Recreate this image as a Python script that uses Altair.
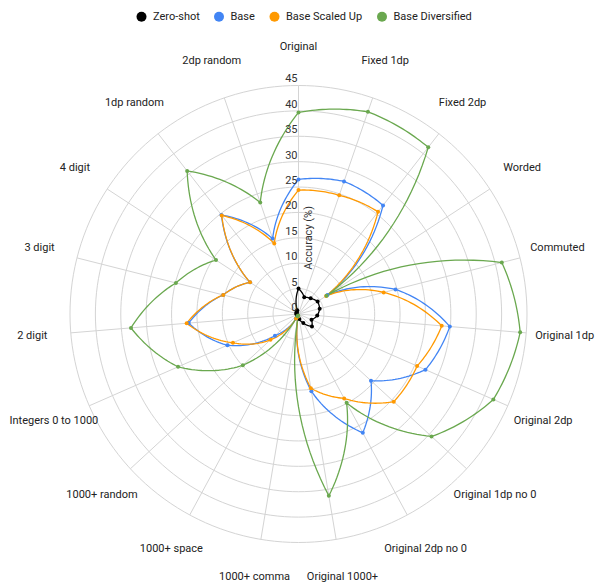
import altair as alt
import pandas as pd

# ---------------- data ----------------
categories = [
    "Original", "Fixed 1dp", "Fixed 2dp", "Worded", "Commuted",
    "Original 1dp", "Original 2dp", "Original 1dp no 0", "Original 2dp no 0",
    "Original 1000+", "1000+ comma", "1000+ space", "1000+ random",
    "Integers 0 to 1000", "2 digit", "3 digit", "4 digit", "1dp random", "2dp random",
]
zero_shot = [5.0, 3.5, 3.9, 4.5, 4.3, 3.7, 2.8, 3.6, 2.0, 1.0, 0.6, 0.4, 0.4, 0.3, 0.4, 0.4, 0.5, 0.5, 0.8]
base = [26.5, 27.6, 27.1, 6.8, 19.7, 29.9, 27.3, 19.4, 26.6, 15.4, 0.5, 1.0, 6.3, 15.3, 21.7, 15.3, 11.4, 24.7, 15.7]
base_scaled_up = [24.4, 24.7, 25.5, 6.5, 17.3, 28.3, 25.5, 25.5, 18.9, 14.8, 0.5, 1.0, 7.5, 14.1, 22.1, 15.3, 11.4, 24.6, 14.7]
base_diversified = [39.7, 42.1, 41.6, 6.6, 41.3, 43.8, 41.9, 35.6, 19.9, 36.3, 0.3, 0.5, 14.9, 25.9, 33.1, 24.9, 19.4, 35.7, 23.2]

series_names = ["Zero-shot", "Base", "Base Scaled Up", "Base Diversified"]
series_colors = ["#000000", "#4285f4", "#ff9900", "#6aa84f"]
tick_values = [0, 5, 10, 15, 20, 25, 30, 35, 40, 45]
axis_title = "Accuracy (%)"

# ---------------- layout ----------------
W, H = 595, 584
CX, CY = 298.5, 314.0      # centre of the radar in pixels
PPU = 5.078                # pixels per accuracy unit
AXIS_MAX = 45
LABEL_R = 52.6             # radius of category labels (in units)
N = len(categories)
FONT = "Roboto"
FS = 11
TXT = "#222222"

xs = alt.Scale(domain=[-CX / PPU, (W - CX) / PPU], nice=False, zero=False)
ys = alt.Scale(domain=[-(H - CY) / PPU, CY / PPU], nice=False, zero=False)


def X(f):
    return alt.X(f, type="quantitative", scale=xs, axis=None)


def Y(f):
    return alt.Y(f, type="quantitative", scale=ys, axis=None)


# tables built from the arrays
rows = []
for name, vals in zip(series_names, [zero_shot, base, base_scaled_up, base_diversified]):
    for k, v in enumerate(vals):
        rows.append({"series": name, "k": k, "v": v, "vnext": vals[(k + 1) % N]})
df = pd.DataFrame(rows)
df_cat = pd.DataFrame({"cat": categories, "k": list(range(N))})
df_ring = pd.DataFrame({"r": [t for t in tick_values if t > 0]})
df_tick = pd.DataFrame({"tick": tick_values, "lab": [str(t) for t in tick_values], "zero": 0})
df_title = pd.DataFrame({"title": [axis_title], "zero": [0], "pos": [AXIS_MAX / 3.0]})

legend = alt.Legend(
    orient="none",
    legendX=136,
    legendY=11,
    direction="horizontal",
    symbolType="circle",
    symbolSize=100,
    symbolOpacity=1,
    symbolStrokeWidth=0,
    labelFont=FONT,
    labelFontSize=FS,
    labelColor=TXT,
    labelOffset=6,
    columnPadding=13.5,
)
color = alt.Color(
    "series:N",
    scale=alt.Scale(domain=series_names, range=series_colors),
    title=None,
    legend=legend,
)

# rings
rings = (
    alt.Chart(df_ring)
    .transform_calculate(a="sequence(0, 361, 2)")
    .transform_flatten(["a"])
    .transform_calculate(
        x="datum.r * sin(datum.a * PI / 180)",
        y="datum.r * cos(datum.a * PI / 180)",
    )
    .mark_line(color="#d4d4d4", strokeWidth=1)
    .encode(x=X("x"), y=Y("y"), detail="r:N", order="a:Q")
)

# spokes
spokes = (
    alt.Chart(df_cat)
    .transform_calculate(
        ang=f"datum.k * 2 * PI / {N}",
        x0="0",
        y0="0",
    )
    .transform_calculate(
        x1=f"{AXIS_MAX} * sin(datum.ang)",
        y1=f"{AXIS_MAX} * cos(datum.ang)",
    )
    .mark_rule(color="#d4d4d4", strokeWidth=1)
    .encode(x=X("x0"), y=Y("y0"), x2="x1:Q", y2="y1:Q")
)

# category labels
cat_labels = (
    alt.Chart(df_cat)
    .transform_calculate(ang=f"datum.k * 2 * PI / {N}")
    .transform_calculate(
        lx=f"{LABEL_R} * sin(datum.ang)",
        ly=f"{LABEL_R} * cos(datum.ang)",
    )
    .mark_text(align="center", baseline="middle", font=FONT, fontSize=FS, color=TXT)
    .encode(x=X("lx"), y=Y("ly"), text="cat:N")
)

# radial tick labels
tick_labels = (
    alt.Chart(df_tick)
    .mark_text(align="right", baseline="middle", dx=-1, dy=-6, font=FONT, fontSize=FS, color="#333333")
    .encode(x=X("zero"), y=Y("tick"), text="lab:N")
)

title_text = (
    alt.Chart(df_title)
    .mark_text(angle=270, align="center", baseline="middle", dy=10, font=FONT, fontSize=FS, color="#333333")
    .encode(x=X("zero"), y=Y("pos"), text="title:N")
)

# series curves (drawn in polar space, as in the reference)
lines = (
    alt.Chart(df)
    .transform_calculate(t="sequence(0, 1.0001, 0.05)")
    .transform_flatten(["t"])
    .transform_calculate(
        ang=f"(datum.k + datum.t) * 2 * PI / {N}",
        r="datum.v + (datum.vnext - datum.v) * datum.t",
        o="datum.k + datum.t",
    )
    .transform_calculate(
        x="datum.r * sin(datum.ang)",
        y="datum.r * cos(datum.ang)",
    )
    .mark_line(strokeWidth=1.3)
    .encode(
        x=X("x"),
        y=Y("y"),
        color=color,
        detail="series:N",
        order="o:Q",
    )
)

points = (
    alt.Chart(df)
    .transform_calculate(ang=f"datum.k * 2 * PI / {N}")
    .transform_calculate(
        x="datum.v * sin(datum.ang)",
        y="datum.v * cos(datum.ang)",
    )
    .mark_circle(size=16, opacity=1)
    .encode(x=X("x"), y=Y("y"), color=color)
)

chart = (
    alt.layer(rings, spokes, lines, points, cat_labels, tick_labels, title_text)
    .properties(width=W, height=H, padding=0, autosize=alt.AutoSizeParams(type="none"), background="white")
    .configure_view(stroke=None)
)

chart.save("out.html", embed_options={"renderer": "svg", "actions": False})
